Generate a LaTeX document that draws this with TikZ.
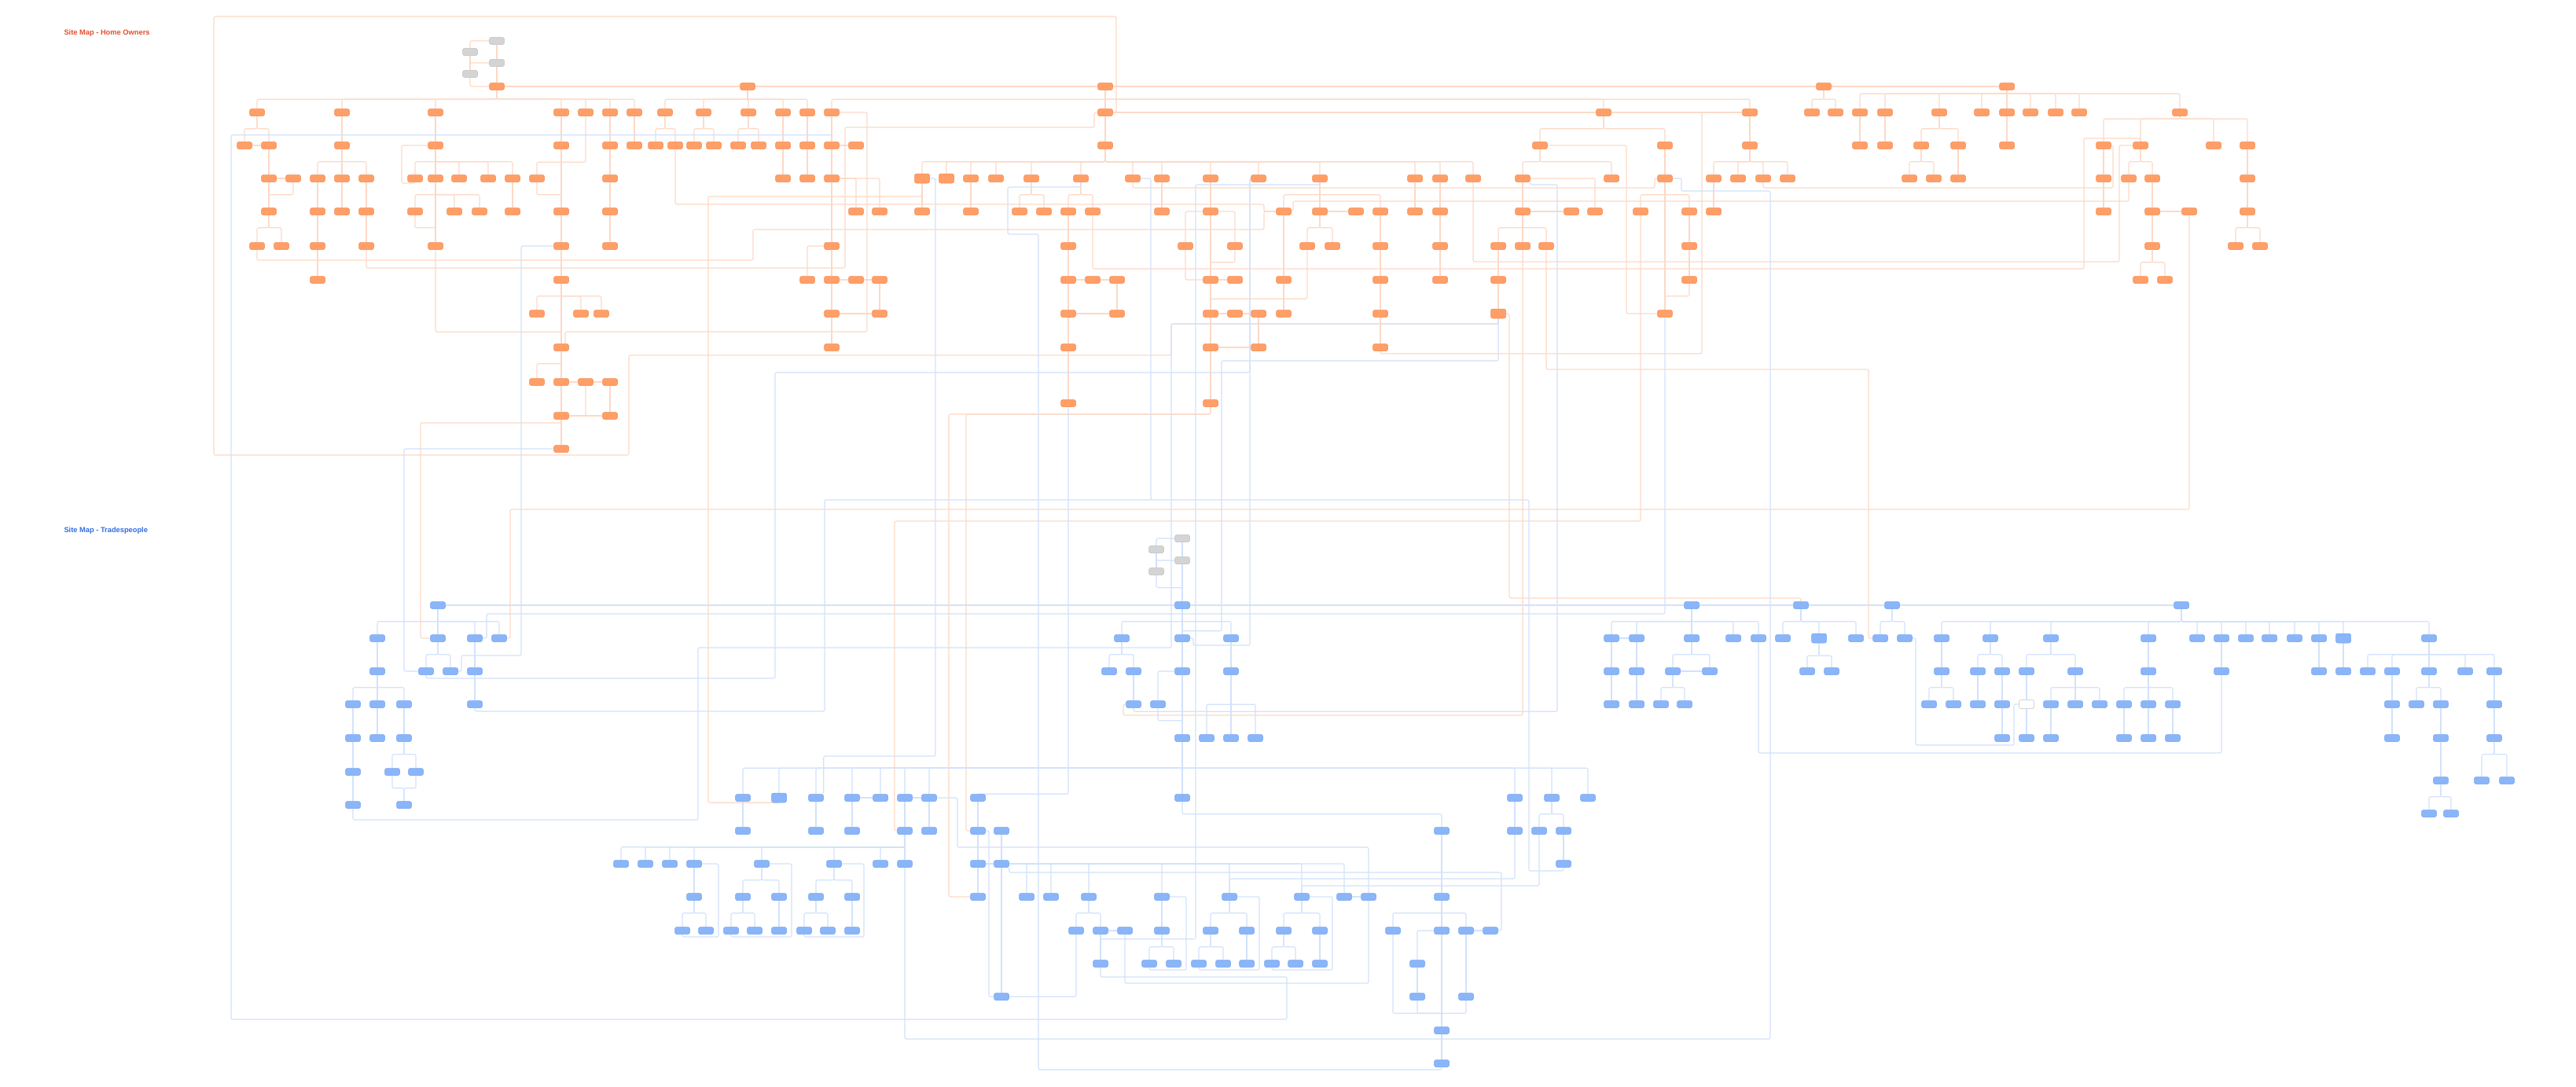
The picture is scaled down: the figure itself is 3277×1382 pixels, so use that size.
\documentclass[tikz,border=0pt]{standalone}
\usepackage{fontspec}
\setmainfont{Liberation Sans}
\usetikzlibrary{backgrounds}
\definecolor{hoFill}{HTML}{FF9E66}
\definecolor{hoEdge}{HTML}{F58A50}
\definecolor{hoLink}{HTML}{FCD9C6}
\definecolor{hoTitle}{HTML}{E2502B}
\definecolor{tpFill}{HTML}{8AB6F9}
\definecolor{tpEdge}{HTML}{70A1F0}
\definecolor{tpLink}{HTML}{D2E2FB}
\definecolor{tpTitle}{HTML}{316EE3}
\definecolor{gyFill}{HTML}{D4D4D4}
\definecolor{gyEdge}{HTML}{BDBDBD}
\tikzset{
  box/.style={rounded corners=2.5pt,minimum width=19pt,minimum height=9pt,inner sep=0pt,line width=.5pt},
  hnode/.style={box,fill=hoFill,draw=hoEdge},
  tnode/.style={box,fill=tpFill,draw=tpEdge},
  gnode/.style={box,fill=gyFill,draw=gyEdge},
  wnode/.style={box,fill=white,draw=gyEdge,minimum height=11pt},
  tall/.style={minimum height=12pt},
  hlink/.style={draw=hoLink,line width=1.1pt,rounded corners=2pt},
  tlink/.style={draw=tpLink,line width=1.1pt,rounded corners=2pt},
  tobus/.style={to path={(\tikztostart.south) -- ++(0,#1) -| (\tikztotarget.north)}},
  tobus/.default=16,
  sitetitle/.style={anchor=west,font=\fontsize{9.3}{11}\selectfont\bfseries}
}
\begin{document}
\begin{tikzpicture}[x=1pt,y=-1pt]
\useasboundingbox (0,0) rectangle (3277,1382);
\node[sitetitle,text=hoTitle] (titleHome) at (78,42) {Site Map - Home Owners};
\node[sitetitle,text=tpTitle] (titleTrade) at (78,675) {Site Map - Tradespeople};
\foreach \x/\y in {632/52,598/66,632/80,598/94,1504/685,1471/699,1504/713,1471/727}
  \node[gnode] (g\x-\y) at (\x,\y) {};
\foreach \y/\xs in {
  110/{632,951,1406,2320,2553},
  143/{327,435,554,714,745,776,807,846,895,952,996,1027,1058,1406,2040,2226,2305,2335,2366,2398,2467,2521,2553,2583,2615,2645,2773},
  185/{311,342,435,554,714,776,807,834,859,883,908,939,965,996,1027,1058,1089,1406,1959,2118,2226,2366,2398,2444,2491,2553,2676,2723,2816,2859},
  227/{342,373,404,435,466,528,554,584,621,652,683,776,996,1027,1058,1235,1267,1312,1375,1441,1478,1540,1601,1679,1800,1832,1874,1937,2050,2118,2180,2211,2243,2274,2429,2460,2491,2676,2708,2738,2859},
  269/{342,404,435,466,528,578,610,652,714,776,1089,1119,1173,1235,1297,1328,1359,1390,1478,1540,1633,1679,1725,1756,1800,1832,1937,1999,2029,2087,2149,2180,2676,2738,2785,2859},
  313/{327,358,404,466,554,714,776,1058,1359,1508,1571,1663,1695,1756,1832,1906,1937,1967,2149,2738,2844,2875},
  356/{404,714,1027,1058,1089,1119,1359,1390,1421,1540,1571,1633,1756,1832,1906,2149,2723,2754},
  399/{683,739,765,1058,1119,1359,1421,1540,1571,1601,1633,1756,2118},
  442/{714,1058,1359,1540,1601,1756},
  486/{683,714,745,776}, 513/{1359,1540}, 529/{714,776}, 571/{714}}
  {\foreach \x in \xs {\node[hnode] (o\x-\y) at (\x,\y) {};}}
\node[hnode,tall] (o1173-227) at (1173,227) {};
\node[hnode,tall] (o1204-227) at (1204,227) {};
\node[hnode,tall] (o1906-399) at (1906,399) {};
\foreach \y/\xs in {
  770/{557,1504,2152,2291,2407,2775},
  812/{480,557,604,635,1427,1504,1566,2050,2082,2152,2205,2237,2268,2361,2392,2423,2470,2532,2609,2733,2795,2826,2857,2887,2919,2950,3090},
  854/{480,542,573,604,1411,1442,1504,1566,2050,2082,2128,2175,2299,2330,2470,2516,2547,2578,2640,2733,2826,2950,2981,3012,3043,3090,3136,3173},
  896/{449,480,514,604,1442,1473,2050,2082,2113,2143,2454,2485,2516,2547,2609,2640,2671,2702,2733,2764,3043,3074,3105,3173},
  939/{449,480,514,1504,1535,1566,1597,2547,2578,2609,2702,2733,2764,3043,3105,3173},
  982/{449,499,529}, 993/{3105,3157,3189},
  1015/{945,1038,1084,1120,1151,1182,1244,1504,1927,1974,2020},
  1024/{449,514}, 1035/{3090,3118},
  1057/{945,1038,1084,1151,1182,1244,1274,1834,1927,1958,1989},
  1099/{790,821,852,883,969,1061,1120,1151,1244,1274,1989},
  1141/{883,945,991,1038,1084,1244,1306,1337,1385,1478,1564,1656,1710,1741,1834},
  1184/{868,898,930,960,991,1023,1053,1084,1369,1400,1431,1478,1540,1586,1633,1679,1772,1834,1865,1896},
  1226/{1400,1462,1493,1525,1556,1586,1618,1648,1679,1803},
  1268/{1274,1803,1865}, 1311/{1834}, 1353/{1834}}
  {\foreach \x in \xs {\node[tnode] (b\x-\y) at (\x,\y) {};}}
\node[tnode,tall] (b2314-812) at (2314,812) {};
\node[tnode,tall] (b2981-812) at (2981,812) {};
\node[tnode,tall] (b991-1015) at (991,1015) {};
\node[wnode] (b2578-896) at (2578,896) {};
\begin{scope}[on background layer]
\fill[white] (0,0) rectangle (3277,1382);
\draw[hlink] (g632-52) -- (g632-80) -- (o632-110);
\draw[hlink] (g632-52.west) -| (g598-66.north);
\draw[hlink] (g598-66) -- (g598-94);
\draw[hlink] (g598-66.south) |- (g632-80.west);
\draw[hlink] (g598-94.south) |- (o632-110.west);
\draw[hlink] (o632-110) -- (o951-110) -- (o1406-110) -- (o2320-110) -- (o2553-110);
\foreach \c in {327,435,554,714,745,776,807} \draw[hlink] (o632-110) to[tobus=11.5] (o\c-143);
\foreach \c in {846,895,952,996,1027} \draw[hlink] (o951-110) to[tobus=11.5] (o\c-143);
\foreach \c in {1058,1406,2040,2226} \draw[hlink] (o1406-110) to[tobus=11.5] (o\c-143);
\foreach \c in {2305,2335} \draw[hlink] (o2320-110) to[tobus=11.5] (o\c-143);
\foreach \c in {2366,2398,2467,2521,2553,2583,2615,2645,2773} \draw[hlink] (o2553-110) to[tobus=4.5] (o\c-143);
\foreach \c in {2676,2723,2816,2859} \draw[hlink] (o2773-143) to[tobus=3.5] (o\c-185);
\draw[hlink] (o1406-143) -- (o2040-143) -- (o2226-143);
\draw[hlink] (o745-143) to[tobus=58.5] (o683-227);
\draw[hlink] (o554-313) to[tobus=104.5] (o714-442);
\foreach \c in {404,435,466} \draw[hlink] (o435-185) to[tobus] (o\c-227);
\foreach \c in {528,554,584,621,652} \draw[hlink] (o554-185) to[tobus] (o\c-227);
\foreach \c in {1173,1204,1235,1267,1312,1375,1441,1478,1540,1601,1679,1800,1832,1874} \draw[hlink] (o1406-185) to[tobus] (o\c-227);
\foreach \c in {2180,2211,2243,2274} \draw[hlink] (o2226-185) to[tobus] (o\c-227);
\foreach \c in {683,739,765} \draw[hlink] (o714-356) to[tobus] (o\c-399);
\foreach \c in {1633,1679,1756} \draw[hlink] (o1679-227) to[tobus] (o\c-269);
\foreach \c in {1906,1937,1967} \draw[hlink] (o1937-269) to[tobus] (o\c-313);
\foreach \p/\c in {o327-143/o311-185, o327-143/o342-185, o435-143/o435-185, o554-143/o554-185, o714-143/o714-185,
  o776-143/o776-185, o807-143/o807-185, o846-143/o834-185, o846-143/o859-185, o895-143/o883-185, o895-143/o908-185,
  o952-143/o939-185, o952-143/o965-185, o996-143/o996-185, o1027-143/o1027-185, o1058-143/o1058-185,
  o1406-143/o1406-185, o2040-143/o1959-185, o2040-143/o2118-185, o2226-143/o2226-185, o2366-143/o2366-185,
  o2398-143/o2398-185, o2467-143/o2444-185, o2467-143/o2491-185, o2553-143/o2553-185,
  o342-185/o342-227, o342-227/o342-269, o373-227/o342-269, o714-185/o714-269, o776-185/o776-227, o776-227/o776-269,
  o776-269/o776-313, o996-185/o996-227, o1027-185/o1027-227, o1058-185/o1058-227, o1959-185/o1937-227,
  o1959-185/o2050-227, o2118-185/o2118-227, o2444-185/o2429-227, o2444-185/o2460-227, o2491-185/o2491-227,
  o2676-185/o2676-227, o2676-227/o2676-269, o2723-185/o2708-227, o2723-185/o2738-227, o2859-185/o2859-227,
  o2859-227/o2859-269, o342-269/o327-313, o342-269/o358-313, o404-227/o404-269, o404-269/o404-313,
  o404-313/o404-356, o435-227/o435-269, o466-227/o466-269, o466-269/o466-313, o554-227/o528-269,
  o554-227/o578-269, o554-227/o610-269, o554-227/o554-313, o528-269/o554-313, o652-227/o652-269,
  o683-227/o714-269, o714-269/o714-313, o714-313/o714-356, o714-356/o714-442, o714-442/o683-486,
  o714-442/o714-486, o714-486/o714-529, o776-486/o776-529, o714-529/o714-571,
  o1058-227/o1058-313, o1058-313/o1058-356, o1058-356/o1058-399, o1058-399/o1058-442, o1119-356/o1119-399,
  o1173-227/o1173-269, o1235-227/o1235-269, o1312-227/o1297-269, o1312-227/o1328-269, o1375-227/o1359-269,
  o1375-227/o1390-269, o1478-227/o1478-269, o1540-227/o1540-269, o1540-269/o1540-356, o1571-313/o1540-356,
  o1540-356/o1540-399, o1540-399/o1540-442, o1540-442/o1540-513, o1601-399/o1601-442,
  o1359-269/o1359-313, o1359-313/o1359-356, o1359-356/o1359-399, o1359-399/o1359-442, o1359-442/o1359-513,
  o1421-356/o1421-399, o1633-269/o1633-356, o1633-356/o1633-399, o1679-269/o1663-313, o1679-269/o1695-313,
  o1756-269/o1756-313, o1756-313/o1756-356, o1756-356/o1756-399, o1756-399/o1756-442, o1800-227/o1800-269,
  o1832-227/o1832-269, o1832-269/o1832-313, o1832-313/o1832-356, o1937-227/o1937-269, o1906-313/o1906-356,
  o1906-356/o1906-399, o2118-227/o2087-269, o2118-227/o2149-269, o2118-227/o2118-399, o2149-269/o2149-313,
  o2149-313/o2149-356, o2149-356/o2118-399, o2180-227/o2180-269, o2738-227/o2738-269, o2738-269/o2738-313,
  o2738-313/o2723-356, o2738-313/o2754-356, o2859-269/o2844-313, o2859-269/o2875-313}
  \draw[hlink] (\p) to[tobus] (\c);
\draw[hlink] (o311-185) -- (o342-185);
\draw[hlink] (o342-227) -- (o373-227);
\draw[hlink] (o1058-185) -- (o1089-185);
\draw[hlink] (o714-486) -- (o745-486) -- (o776-486);
\draw[hlink] (o714-529) -- (o776-529);
\draw[hlink] (o1058-356) -- (o1089-356) -- (o1119-356);
\draw[hlink] (o1058-399) -- (o1119-399);
\draw[hlink] (o1540-356) -- (o1571-356);
\draw[hlink] (o1540-399) -- (o1571-399) -- (o1601-399);
\draw[hlink] (o1540-442) -- (o1601-442);
\draw[hlink] (o1359-356) -- (o1390-356) -- (o1421-356);
\draw[hlink] (o1359-399) -- (o1421-399);
\draw[hlink] (o1679-269) -- (o1725-269);
\draw[hlink] (o1937-269) -- (o1999-269);
\draw[hlink] (o2738-269) -- (o2785-269);
\draw[hlink] (o745-486.south) |- (o776-529.west);
\draw[hlink] (o554-185.west) -| (511,233) -| (o528-227.south);
\draw[hlink] (o1058-227.east) -| (o1119-269.north);
\draw[hlink] (o1089-269.north) |- (o1058-227.east);
\draw[hlink] (o1058-313.west) -| (o1027-356.north);
\draw[hlink] (o1540-269.east) -| (o1571-313.north);
\draw[hlink] (o1540-269.west) -| (o1508-313.north);
\draw[hlink] (o1508-313.south) |- (o1540-356.west);
\draw[hlink] (o1663-313.south) |- ([yshift=14pt]o1540-399.north);
\draw[hlink] (o1937-227.east) -| (o2029-269.north);
\draw[hlink] (o1959-185.east) -| (2069,399) -- (o2118-399.west);
\draw[hlink] (o1756-442.south) |- (2165,450) |- (o2226-143.west);
\draw[hlink] (o1906-399.south) |- (1490,412) |- (800,452) |- (272,579) |- (1420,21) |- (o1406-143.east);
\draw[hlink] (o1967-313.south) |- (2377,470) |- (b2392-812.west);
\draw[hlink] (o2785-269.south) |- (649,648) |- (b635-812.east);
\draw[hlink] (o2087-269.south) |- (1138,663) |- (b1151-1057.west);
\draw[hlink] (o1906-399.east) -| (1920,761) -| (b2291-770.north);
\draw[hlink] (o714-529.south) |- (535,538) |- (b557-812.west);
\draw[hlink] (o1937-313.south) |- (1429,910) |- (b1442-896.west);
\draw[hlink] (o1173-227.south) |- (901,250) |- (b991-1015.south);
\draw[hlink] (o1390-269.south) |- (2651,342) -- (2651,176) -| (o2723-185.north);
\draw[hlink] (o1874-227.south) |- (2696,333) |- (o2723-185.west);
\draw[hlink] (o2243-227.south) |- (2688,239) |- (o2676-185.east);
\draw[hlink] (o2708-227.south) |- (1645,256) |- (o1633-269.east);
\draw[hlink] (o466-313.south) |- (1075,341) |- (1392,162) |- (o1406-143.west);
\draw[hlink] (o327-313.south) |- (958,331) |- (1608,292) |- (o1633-269.west);
\draw[hlink] (o859-185.south) |- (1608,260) |- (o1633-269.west);
\draw[hlink] (o1058-143.east) -| (1103,422) -| ([xshift=5pt]o714-442.north);
\draw[hlink] (o1540-513.south) |- (1207,527) |- (b1244-1141.west);
\draw[hlink] (o1540-513.south) |- (1229,527) |- (b1244-1057.west);
\draw[hlink] (o1441-227.south) |- (2105,239) |- (o2118-227.west);
\draw[tlink] (g1504-685) -- (g1504-713) -- (b1504-770);
\draw[tlink] (g1504-685.west) -| (g1471-699.north);
\draw[tlink] (g1471-699) -- (g1471-727);
\draw[tlink] (g1471-699.south) |- (g1504-713.west);
\draw[tlink] (g1471-727) to[tobus] (b1504-770);
\draw[tlink] (b557-770) -- (b1504-770) -- (b2152-770) -- (b2291-770) -- (b2407-770) -- (b2775-770);
\foreach \c in {480,557,604,635} \draw[tlink] (b557-770) to[tobus] (b\c-812);
\foreach \c in {449,480,514} \draw[tlink] (b480-854) to[tobus] (b\c-896);
\foreach \c in {1427,1504,1566} \draw[tlink] (b1504-770) to[tobus] (b\c-812);
\foreach \c in {1535,1566,1597} \draw[tlink] (b1566-854) to[tobus=37.5] (b\c-939);
\foreach \c in {945,991,1038,1084,1120,1151,1182,1504,1927,1974,2020} \draw[tlink] (b1504-939) to[tobus=33.5] (b\c-1015);
\foreach \c in {2050,2082,2152,2205,2237} \draw[tlink] (b2152-770) to[tobus] (b\c-812);
\foreach \c in {2268,2314,2361} \draw[tlink] (b2291-770) to[tobus] (b\c-812);
\foreach \c in {2470,2532,2609,2733,2795,2826,2857,2887,2919,2950,2981,3090} \draw[tlink] (b2775-770) to[tobus] (b\c-812);
\foreach \c in {2609,2640,2671} \draw[tlink] (b2640-854) to[tobus] (b\c-896);
\foreach \c in {2702,2733,2764} \draw[tlink] (b2733-854) to[tobus] (b\c-896);
\foreach \c in {3012,3043,3090,3136,3173} \draw[tlink] (b3090-812) to[tobus] (b\c-854);
\foreach \c in {790,821,852,883,969,1061,1120,1151} \draw[tlink] (b1151-1057) to[tobus] (b\c-1099);
\foreach \c in {1772,1834,1865} \draw[tlink] (b1834-1141) to[tobus] (b\c-1184);
\foreach \c in {1306,1337,1385,1478,1564,1656,1710} \draw[tlink] (b1274-1099.east) -| (b\c-1141.north);
\foreach \n in {b1772-1184,b1803-1268,b1865-1268} \draw[tlink] (\n.south) |- ([yshift=17pt]b1834-1311.north) -- (b1834-1311.north);
\foreach \p/\c in {b480-812/b480-854, b449-896/b449-939, b449-939/b449-982, b449-982/b449-1024, b480-896/b480-939,
  b514-896/b514-939, b514-939/b499-982, b514-939/b529-982, b499-982/b514-1024, b529-982/b514-1024, b557-812/b542-854,
  b557-812/b573-854, b604-812/b604-854, b604-854/b604-896, b1427-812/b1411-854, b1427-812/b1442-854,
  b1442-854/b1442-896, b1504-812/b1504-854, b1504-854/b1504-939, b1566-812/b1566-854, b1473-896/b1504-939,
  b2050-812/b2050-854, b2050-854/b2050-896, b2082-812/b2082-854, b2082-854/b2082-896, b2152-812/b2128-854,
  b2152-812/b2175-854, b2128-854/b2113-896, b2128-854/b2143-896, b2314-812/b2299-854, b2314-812/b2330-854,
  b2407-770/b2392-812, b2407-770/b2423-812, b2470-812/b2470-854, b2470-854/b2454-896, b2470-854/b2485-896,
  b2532-812/b2516-854, b2532-812/b2547-854, b2516-854/b2516-896, b2547-854/b2547-896, b2547-896/b2547-939,
  b2609-812/b2578-854, b2609-812/b2640-854, b2578-854/b2578-896, b2578-896/b2578-939, b2609-896/b2609-939,
  b2733-812/b2733-854, b2702-896/b2702-939, b2733-896/b2733-939, b2764-896/b2764-939, b2826-812/b2826-854,
  b2950-812/b2950-854, b2981-812/b2981-854, b3043-854/b3043-896, b3043-896/b3043-939, b3090-854/b3074-896,
  b3090-854/b3105-896, b3105-896/b3105-939, b3105-939/b3105-993, b3105-993/b3090-1035, b3105-993/b3118-1035,
  b3173-854/b3173-896, b3173-896/b3173-939, b3173-939/b3157-993, b3173-939/b3189-993,
  b945-1015/b945-1057, b1038-1015/b1038-1057, b1084-1015/b1084-1057, b1151-1015/b1151-1057, b1182-1015/b1182-1057,
  b1244-1015/b1244-1057, b1244-1057/b1244-1099, b1244-1099/b1244-1141, b1274-1057/b1274-1099, b1274-1099/b1274-1268,
  b883-1099/b883-1141, b883-1141/b868-1184, b883-1141/b898-1184, b969-1099/b945-1141, b969-1099/b991-1141,
  b945-1141/b930-1184, b945-1141/b960-1184, b991-1141/b991-1184, b1061-1099/b1038-1141, b1061-1099/b1084-1141,
  b1038-1141/b1023-1184, b1038-1141/b1053-1184, b1084-1141/b1084-1184, b1385-1141/b1369-1184, b1385-1141/b1400-1184,
  b1400-1184/b1400-1226, b1504-1015/b1834-1057, b1834-1057/b1834-1141, b1803-1226/b1803-1268, b1865-1184/b1865-1268,
  b1834-1184/b1834-1311, b1834-1311/b1834-1353, b1927-1015/b1927-1057, b1974-1015/b1958-1057, b1974-1015/b1989-1057,
  b1989-1057/b1989-1099, b1478-1141/b1478-1184, b1478-1184/b1462-1226, b1478-1184/b1493-1226, b1564-1141/b1540-1184,
  b1564-1141/b1586-1184, b1540-1184/b1525-1226, b1540-1184/b1556-1226, b1586-1184/b1586-1226, b1656-1141/b1633-1184,
  b1656-1141/b1679-1184, b1633-1184/b1618-1226, b1633-1184/b1648-1226, b1679-1184/b1679-1226}
  \draw[tlink] (\p) to[tobus] (\c);
\draw[tlink] (b2050-812) -- (b2082-812);
\draw[tlink] (b2128-854) -- (b2175-854);
\draw[tlink] (b1084-1015) -- (b1120-1015);
\draw[tlink] (b1151-1015) -- (b1182-1015);
\draw[tlink] (b1244-1099) -- (b1274-1099);
\draw[tlink] (b1710-1141) -- (b1741-1141);
\draw[tlink] (b1865-1184) -- (b1896-1184);
\draw[tlink] (b1400-1184) -- (b1431-1184);
\draw[tlink] (b1834-1184.west) -| (b1803-1226.north);
\draw[tlink] (b1504-854.west) -| (b1473-896.north);
\draw[tlink] (b2423-812.east) -| (2437,948) -- (2562,948) |- (b2578-896.west);
\draw[tlink] (b2237-812.south) |- (2826,958) -- (b2826-854.south);
\draw[tlink] (b1182-1015.east) -| (1218,1078) -| (b1741-1141.north);
\draw[tlink] (b1741-1141.south) |- (1431,1251) -- (b1431-1184.south);
\draw[tlink] (b868-1184.south) |- (914,1192) |- (b883-1099.east);
\draw[tlink] (b930-1184.south) |- (1007,1192) |- (b969-1099.east);
\draw[tlink] (b1023-1184.south) |- (1099,1192) |- (b1061-1099.east);
\draw[tlink] (b1462-1226.south) |- (1509,1234) |- (b1478-1141.east);
\draw[tlink] (b1525-1226.south) |- (1602,1234) |- (b1564-1141.east);
\draw[tlink] (b1618-1226.south) |- (1695,1234) |- (b1656-1141.east);
\draw[tlink] (b1274-1268.east) -| (b1369-1184.south);
\draw[tlink] (b1244-1057.east) -| (1258,1268) -- (b1274-1268.west);
\draw[tlink] (b1896-1184.east) -| (1910,1110) -| (b1274-1099.south east);
\draw[tlink] (b1927-1057.south) |- (1564,1118) -- (b1564-1141.north);
\draw[tlink] (b1958-1057.south) |- (1656,1127) -- (b1656-1141.north);
\draw[tlink] (o1359-513.south) |- (b1244-1015.north);
\draw[tlink] (o2118-399.south) |- (619,781) |- (b604-812.east);
\draw[tlink] (o2118-227.east) -| (2139,243) -| (2252,1322) -| (b1151-1099.south);
\draw[tlink] (b1400-1226.south) |- (1637,1243) |- (294,1297) |- ([yshift=8.5pt]o1058-185.north);
\draw[tlink] (b1834-1353.south) |- (1321,1361) |- (1282,298) |- (1360,238) -| (o1375-227.south);
\draw[tlink] (o1173-227.east) -| (1190,962) -| (b1038-1015.north east);
\draw[tlink] (o1601-227.west) -| (1590,474) -| (986,863) -| (b542-854.south);
\draw[tlink] (b1989-1099.south) |- (1945,1108) |- (1464,636) |- (o1441-227.east);
\draw[tlink] (b604-896.south) |- (1049,905) |- (1464,636);
\draw[tlink] (o1906-399.south) |- (1554,459) |- ([yshift=4.5pt]b1504-812.north);
\draw[tlink] (o1601-227.west) -| (1590,821) -- (1518,821) |- (b1504-812.east);
\draw[tlink] (o1679-227.south) |- (1521,235) |- ([yshift=-6pt]b1400-1184.south) -- (b1400-1184.south);
\draw[tlink] (o1937-227.south east) |- (1981,235) |- ([yshift=-4.5pt]b1442-896.south) -- (b1442-896.south);
\draw[tlink] (o714-313.west) -| (663,834) -| (587,854) -- (b573-854.east);
\draw[tlink] (o714-571.west) -| (514,854) -- (b542-854.west);
\draw[tlink] (o1906-399.south) |- (1490,412) |- (888,824) |- (449,1043) -- (b449-1024.south);
\end{scope}
\end{tikzpicture}
\end{document}
